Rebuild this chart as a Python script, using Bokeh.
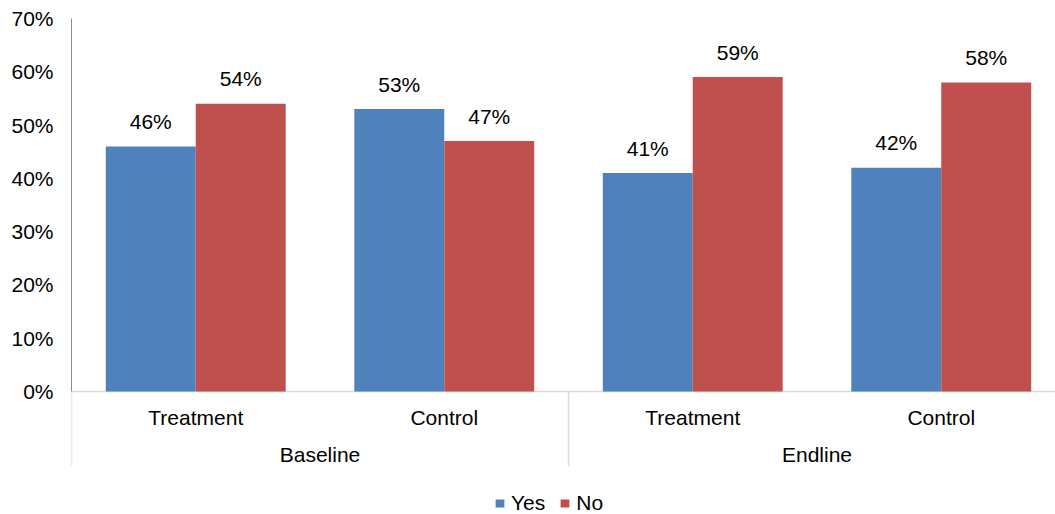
from bokeh.plotting import figure
from bokeh.models import (Range1d, FixedTicker, PrintfTickFormatter, ColumnDataSource,
                          Legend, LegendItem)
from bokeh.core.properties import value
from bokeh.embed import file_html
from bokeh.resources import INLINE

# ---- data ----
groups = ["Baseline", "Endline"]
arms = ["Treatment", "Control", "Treatment", "Control"]
yes = [46, 53, 41, 42]
no = [54, 47, 59, 58]
yticks = [0, 10, 20, 30, 40, 50, 60, 70]

BLUE = "#4F81BD"
RED = "#C0504D"
FONT = "Liberation Sans"
FS = "21px"

pos = [i + 0.5 for i in range(len(arms))]
bw = 0.362
half = bw / 2

src_yes = ColumnDataSource(dict(x=[c - half for c in pos], top=yes,
                                lab=[f"{v}%" for v in yes]))
src_no = ColumnDataSource(dict(x=[c + half for c in pos], top=no,
                               lab=[f"{v}%" for v in no]))

ppu = 373 / 70.0
frame_w = 984
frame_h = 496
p = figure(width=1055, height=514, output_backend="svg", toolbar_location=None,
           x_range=Range1d(0, frame_w / 248.5),
           y_range=Range1d(70 - frame_h / ppu, 70),
           x_axis_location=None, min_border_left=71, min_border_right=0,
           min_border_top=18, min_border_bottom=0)
p.grid.visible = False
p.outline_line_color = None
p.background_fill_color = "white"

ax = p.yaxis[0]
ax.ticker = FixedTicker(ticks=yticks)
ax.formatter = PrintfTickFormatter(format="%d%%")
ax.bounds = (0, 70)
ax.major_tick_in = 0
ax.major_tick_out = 0
ax.minor_tick_in = 0
ax.minor_tick_out = 0
ax.axis_line_color = "#8C8C8C"
ax.major_label_standoff = 18
ax.major_label_text_font = FONT
ax.major_label_text_font_size = FS
ax.major_label_text_color = "#000000"

# baseline & separators
ncat = len(arms)
p.segment(x0=[0], y0=[0], x1=[ncat], y1=[0], line_color="#D9D9D9", line_width=1.5)
sep_x = [0, 2, 4]
p.segment(x0=sep_x, y0=[0] * 3, x1=sep_x, y1=[-14.0] * 3, line_color="#D9D9D9", line_width=1.5)

r_yes = p.vbar(x="x", top="top", width=bw, bottom=0, source=src_yes,
               fill_color=BLUE, line_color=None)
r_no = p.vbar(x="x", top="top", width=bw, bottom=0, source=src_no,
              fill_color=RED, line_color=None)

for s in (src_yes, src_no):
    p.text(x="x", y="top", text="lab", source=s, text_align="center",
           text_baseline="middle", y_offset=-25, text_font=value(FONT),
           text_font_size=FS, text_color="#000000")

# category labels
p.text(x=pos, y=[-4.8] * ncat, text=arms, text_align="center", text_baseline="middle",
       text_font=value(FONT), text_font_size=FS, text_color="#000000")
# group labels
p.text(x=[1, 3], y=[-11.9] * 2, text=groups, text_align="center", text_baseline="middle",
       text_font=value(FONT), text_font_size=FS, text_color="#000000")

legend = Legend(items=[LegendItem(label="Yes", renderers=[r_yes]),
                       LegendItem(label="No", renderers=[r_no])],
                orientation="horizontal", location=(423, -1),
                border_line_color=None, background_fill_alpha=0,
                glyph_width=11, glyph_height=10, label_standoff=6, spacing=14,
                padding=0, margin=0, label_text_font=FONT, label_text_font_size=FS,
                label_height=20, label_text_color="#000000")
p.add_layout(legend)

open("out.html", "w").write(file_html(p, INLINE))
